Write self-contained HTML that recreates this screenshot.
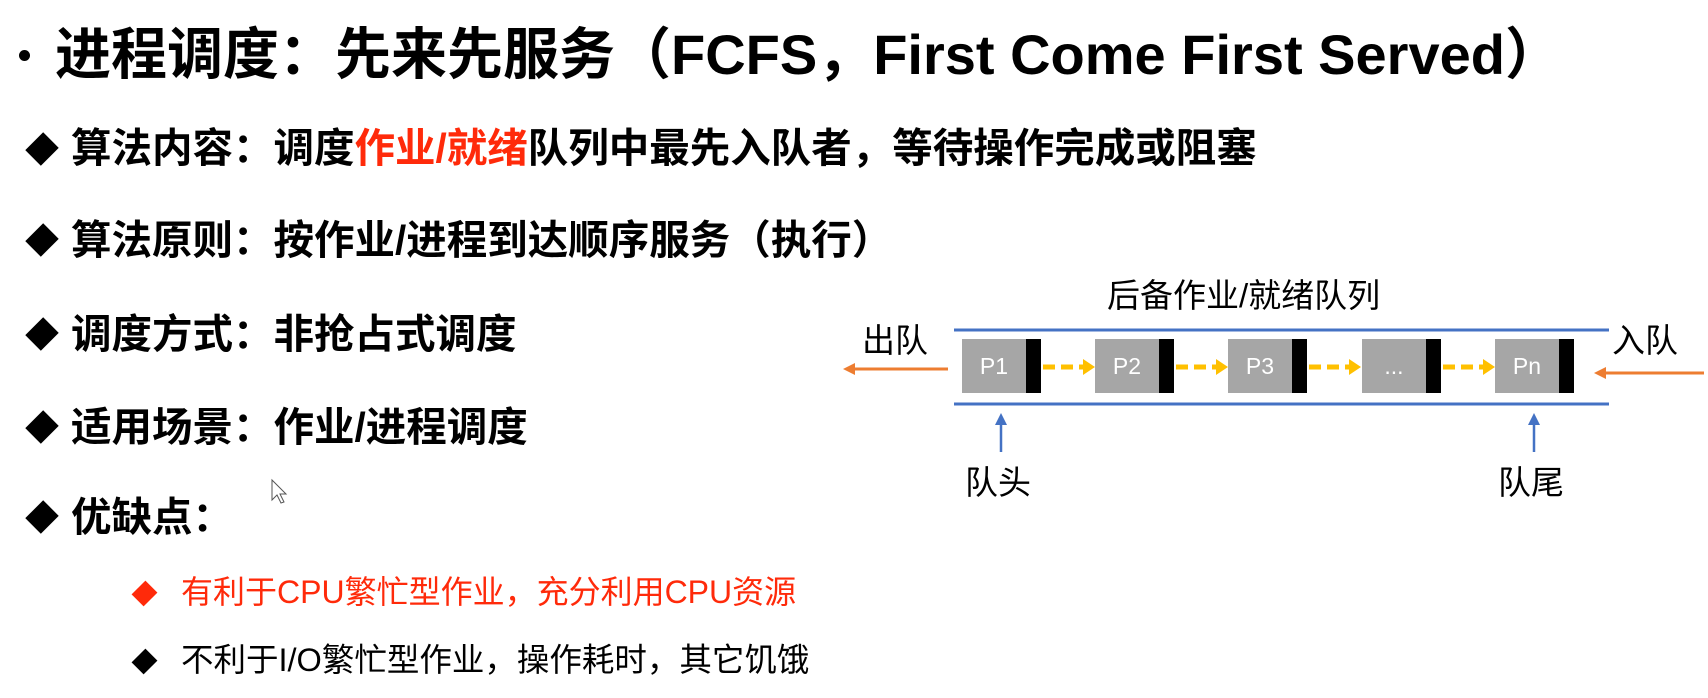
<!DOCTYPE html>
<html><head><meta charset="utf-8"><style>
body{margin:0;width:1708px;height:698px;background:#fff;position:relative;overflow:hidden;font-family:"Liberation Sans","Noto Sans CJK SC",sans-serif;}
.t{position:absolute;white-space:nowrap;line-height:1;}
.b{font-weight:bold;}
.box{position:absolute;top:339px;height:54px;width:64px;background:#a6a6a6;color:#fff;font-size:23px;line-height:54px;text-align:center;}
.blk{position:absolute;top:339px;height:54px;width:15px;background:#000;}
.d{position:absolute;width:22px;height:22px;background:#000;transform:rotate(45deg) scaleY(1.15);}
</style></head><body>
<div style="position:absolute;left:19px;top:50px;width:11px;height:11px;border-radius:50%;background:#000;"></div>
<div class="t b" style="left:55px;top:27px;font-size:56px;">进程调度：先来先服务（FCFS，First Come First Served）</div>

<div class="d" style="left:31px;top:138px;"></div>
<div class="t b" style="left:71px;top:128px;font-size:40.5px;">算法内容：调度<span style="color:#ff2a0a">作业/就绪</span>队列中最先入队者，等待操作完成或阻塞</div>
<div class="d" style="left:31px;top:229px;"></div>
<div class="t b" style="left:71px;top:220px;font-size:40.5px;">算法原则：按作业/进程到达顺序服务（执行）</div>
<div class="d" style="left:31px;top:323px;"></div>
<div class="t b" style="left:71px;top:314px;font-size:40.5px;">调度方式：非抢占式调度</div>
<div class="d" style="left:31px;top:416px;"></div>
<div class="t b" style="left:71px;top:407px;font-size:40.5px;">适用场景：作业/进程调度</div>
<div class="d" style="left:31px;top:506px;"></div>
<div class="t b" style="left:71px;top:497px;font-size:40.5px;">优缺点：</div>

<div class="d" style="left:136px;top:585px;width:17px;height:17px;background:#ff2a0a;"></div>
<div class="t" style="left:181px;top:576px;font-size:32px;color:#ff2a0a;">有利于CPU繁忙型作业，充分利用CPU资源</div>
<div class="d" style="left:136px;top:653px;width:17px;height:17px;"></div>
<div class="t" style="left:181px;top:644px;font-size:32.5px;">不利于I/O繁忙型作业，操作耗时，其它饥饿</div>

<div class="t" style="left:1107px;top:279px;font-size:33px;">后备作业/就绪队列</div>
<div class="t" style="left:862px;top:324px;font-size:33px;">出队</div>
<div class="t" style="left:1612px;top:324px;font-size:33px;">入队</div>
<div class="t" style="left:965px;top:466px;font-size:33px;">队头</div>
<div class="t" style="left:1498px;top:466px;font-size:33px;">队尾</div>

<svg width="1708" height="698" style="position:absolute;left:0;top:0">
<line x1="954" y1="330" x2="1609" y2="330" stroke="#4472c4" stroke-width="3"/>
<line x1="954" y1="404" x2="1609" y2="404" stroke="#4472c4" stroke-width="3"/>
<line x1="948" y1="369" x2="852" y2="369" stroke="#ed7d31" stroke-width="3"/>
<polygon points="843,369 855,363 855,375" fill="#ed7d31"/>
<line x1="1704" y1="373" x2="1603" y2="373" stroke="#ed7d31" stroke-width="3"/>
<polygon points="1594,373 1606,367 1606,379" fill="#ed7d31"/>
<line x1="1001" y1="452" x2="1001" y2="422" stroke="#4472c4" stroke-width="2.5"/>
<polygon points="1001,413 995,425 1007,425" fill="#4472c4"/>
<line x1="1534" y1="452" x2="1534" y2="422" stroke="#4472c4" stroke-width="2.5"/>
<polygon points="1534,413 1528,425 1540,425" fill="#4472c4"/>
<g stroke="#ffc000" stroke-width="5" stroke-dasharray="12,6">
<line x1="1043" y1="367" x2="1084" y2="367"/><line x1="1176" y1="367" x2="1217" y2="367"/>
<line x1="1309" y1="367" x2="1350" y2="367"/><line x1="1443" y1="367" x2="1484" y2="367"/>
</g>
<g fill="#ffc000">
<polygon points="1095,367 1083,359 1083,375"/><polygon points="1228,367 1216,359 1216,375"/>
<polygon points="1361,367 1349,359 1349,375"/><polygon points="1495,367 1483,359 1483,375"/>
</g>
<polygon points="272,480 272,500 277,495 281,503 284,502 280,494 286,494" fill="#fff" stroke="#555" stroke-width="1"/>
</svg>
<div class="box" style="left:962px">P1</div><div class="blk" style="left:1026px"></div>
<div class="box" style="left:1095px">P2</div><div class="blk" style="left:1159px"></div>
<div class="box" style="left:1228px">P3</div><div class="blk" style="left:1292px"></div>
<div class="box" style="left:1362px">...</div><div class="blk" style="left:1426px"></div>
<div class="box" style="left:1495px">Pn</div><div class="blk" style="left:1559px"></div>
</body></html>
